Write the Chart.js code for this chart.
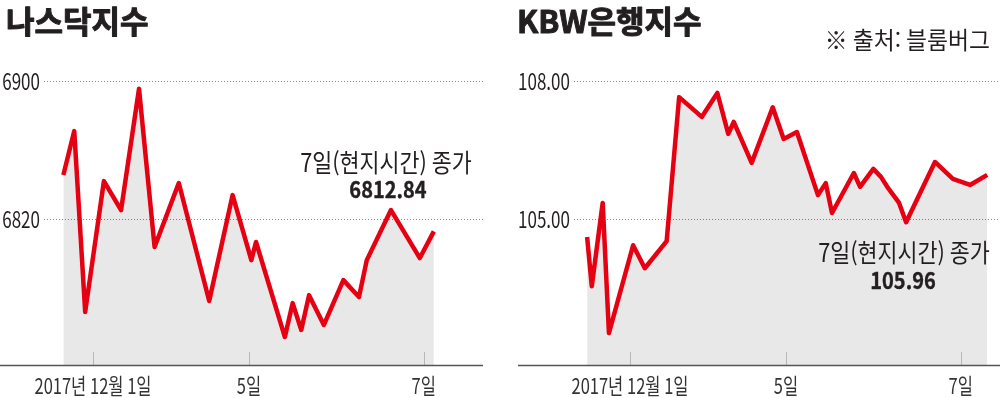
<!DOCTYPE html>
<html lang="ko">
<head>
<meta charset="utf-8">
<title>나스닥지수 · KBW은행지수</title>
<script src="https://cdn.jsdelivr.net/npm/chart.js@4.4.1/dist/chart.umd.min.js"></script>
<style>
  html, body { margin: 0; padding: 0; background: #fff; }
  .wrap { position: relative; width: 1000px; height: 398px; overflow: hidden; }
  .panel { position: absolute; top: 0; width: 500px; height: 398px; }
  #left { left: 0; }
  #right { left: 500px; }
</style>
</head>
<body>
<div class="wrap">
  <div class="panel" id="left"><canvas id="nasdaq" width="500" height="398"></canvas></div>
  <div class="panel" id="right"><canvas id="kbw" width="500" height="398"></canvas></div>
</div>
<script>
// 가로축: 거래일 기준 시점 (12월 1일 = 1)
const xTickValues = [1, 3, 5.24];
const xTickLabels = ['2017년 12월 1일', '5일', '7일'];

// 나스닥지수
const nasdaqTime = [0.62, 0.76, 0.90, 1.14, 1.36, 1.59, 1.79, 2.10, 2.49, 2.79, 3.03, 3.09,
  3.46, 3.56, 3.67, 3.77, 3.96, 4.21, 4.41, 4.51, 4.82, 5.19, 5.37];
const nasdaqValues = [6845.5, 6871.0, 6766.1, 6842.0, 6825.2, 6895.5, 6803.8, 6840.9, 6772.5,
  6833.9, 6796.2, 6806.7, 6751.6, 6771.3, 6755.7, 6775.9, 6758.6, 6784.6, 6774.8, 6796.2,
  6825.2, 6797.4, 6812.84];
const nasdaqTicks = [6820, 6900];

// KBW은행지수
const kbwTime = [0.45, 0.51, 0.65, 0.73, 1.04, 1.19, 1.47, 1.63, 1.92, 2.12, 2.26, 2.33, 2.56,
  2.83, 2.97, 3.14, 3.41, 3.51, 3.59, 3.87, 3.95, 4.12, 4.22, 4.31, 4.45, 4.54, 4.91, 5.14,
  5.36, 5.58];
const kbwValues = [104.61, 103.54, 105.35, 102.52, 104.43, 103.93, 104.52, 107.65, 107.22,
  107.74, 106.85, 107.11, 106.22, 107.43, 106.74, 106.89, 105.52, 105.78, 105.13, 106.00,
  105.70, 106.09, 105.91, 105.67, 105.35, 104.93, 106.24, 105.87, 105.74, 105.96];
const kbwTicks = [105, 108];

const KR = '"Noto Sans CJK KR", sans-serif';
const TEXT_COLOR = '#231f20';

// 글자를 가로로 눌러서 그림 (원본의 좁은 서체 흉내)
function drawText(ctx, t) {
  ctx.save();
  ctx.font = t.font;
  ctx.fillStyle = t.color || TEXT_COLOR;
  ctx.textBaseline = 'middle';
  ctx.textAlign = t.align || 'left';
  ctx.translate(t.x, t.y);
  ctx.scale(t.sx || 1, 1);
  if (t.stroke) {
    ctx.strokeStyle = ctx.fillStyle;
    ctx.lineWidth = t.stroke;
    ctx.lineJoin = 'round';
    ctx.strokeText(t.text, 0, 0);
  }
  ctx.fillText(t.text, 0, 0);
  ctx.restore();
}

// 바닥 축선, 짧은 눈금, 축 라벨, 제목과 주석
const panelDecor = {
  id: 'panelDecor',
  afterDatasetsDraw(chart, args, opts) {
    const ctx = chart.ctx;
    const area = chart.chartArea;
    const xs = chart.scales.x;
    const ys = chart.scales.y;
    ctx.save();

    ctx.strokeStyle = '#b8b8b8';
    ctx.lineWidth = 1;
    xTickValues.forEach(v => {
      const px = Math.round(xs.getPixelForValue(v)) + 0.5;
      ctx.beginPath();
      ctx.moveTo(px, area.bottom - 13);
      ctx.lineTo(px, area.bottom);
      ctx.stroke();
    });

    ctx.strokeStyle = '#555';
    ctx.lineWidth = 1.5;
    ctx.beginPath();
    ctx.moveTo(opts.axisStart, area.bottom + 0.5);
    ctx.lineTo(area.right, area.bottom + 0.5);
    ctx.stroke();

    xTickValues.forEach((v, i) => {
      drawText(ctx, {
        text: xTickLabels[i], x: xs.getPixelForValue(v), y: 386,
        font: '22px ' + KR, align: 'center', sx: 0.75, color: '#333'
      });
    });

    opts.yTicks.forEach(v => {
      drawText(ctx, {
        text: opts.fmtTick(v), x: area.left - 4, y: ys.getPixelForValue(v),
        font: '23px ' + KR, align: 'right', sx: 0.74
      });
    });

    opts.texts.forEach(t => drawText(ctx, t));
    ctx.restore();
  }
};

function makeChart(id, time, values, yTicks, cfg) {
  const last = values[values.length - 1];
  return new Chart(document.getElementById(id), {
    type: 'line',
    data: {
      datasets: [{
        data: time.map((t, i) => ({ x: t, y: values[i] })),
        borderColor: '#e50012',
        borderWidth: 4.5,
        borderJoinStyle: 'round',
        backgroundColor: 'rgba(0, 0, 0, 0.09)',
        fill: 'start',
        pointRadius: 0,
        tension: 0
      }]
    },
    options: {
      responsive: false,
      animation: false,
      devicePixelRatio: 1,
      layout: { padding: { top: 60, bottom: 33, left: 0, right: cfg.padRight } },
      plugins: {
        legend: { display: false },
        tooltip: { enabled: false },
        panelDecor: {
          axisStart: cfg.axisStart,
          yTicks: yTicks,
          fmtTick: cfg.fmtTick,
          texts: cfg.texts.concat([{
            text: cfg.fmt(last), x: cfg.valueX, y: cfg.valueY,
            font: 'bold 23px ' + KR, align: 'center', sx: 0.87, stroke: 0.4
          }])
        }
      },
      scales: {
        x: { type: 'linear', display: false, min: cfg.xMin, max: cfg.xMax },
        y: {
          min: cfg.yMin,
          max: cfg.yMax,
          afterFit(scale) { scale.width = cfg.yWidth; },
          afterBuildTicks(scale) { scale.ticks = yTicks.map(v => ({ value: v })); },
          ticks: { display: false },
          grid: { color: '#8a8a8a', lineWidth: 1, drawTicks: false },
          border: { display: false, dash: [1, 2] }
        }
      }
    },
    plugins: [panelDecor]
  });
}

makeChart('nasdaq', nasdaqTime, nasdaqValues, nasdaqTicks, {
  xMin: 0.372, xMax: 6.0,
  yMin: 6735.4, yMax: 6912.2,
  yWidth: 44, padRight: 17, axisStart: 0,
  fmtTick: v => String(v),
  fmt: v => v.toFixed(2),
  valueX: 388, valueY: 189,
  texts: [
    { text: '나스닥지수', x: 6, y: 21, font: 'bold 31px ' + KR, stroke: 1 },
    { text: '7일(현지시간) 종가', x: 386, y: 162, font: '25px ' + KR, align: 'center', sx: 0.87 }
  ]
});

makeChart('kbw', kbwTime, kbwValues, kbwTicks, {
  xMin: 0.282, xMax: 5.744,
  yMin: 101.826, yMax: 108.457,
  yWidth: 74, padRight: 0, axisStart: 18,
  fmtTick: v => v.toFixed(2),
  fmt: v => v.toFixed(2),
  valueX: 403, valueY: 280,
  texts: [
    { text: 'KBW은행지수', x: 17, y: 21, font: 'bold 31px ' + KR, stroke: 1 },
    { text: '※ 출처: 블룸버그', x: 490, y: 40, font: '24px ' + KR, align: 'right', sx: 0.95 },
    { text: '7일(현지시간) 종가', x: 404, y: 252, font: '25px ' + KR, align: 'center', sx: 0.87 }
  ]
});
</script>
</body>
</html>
